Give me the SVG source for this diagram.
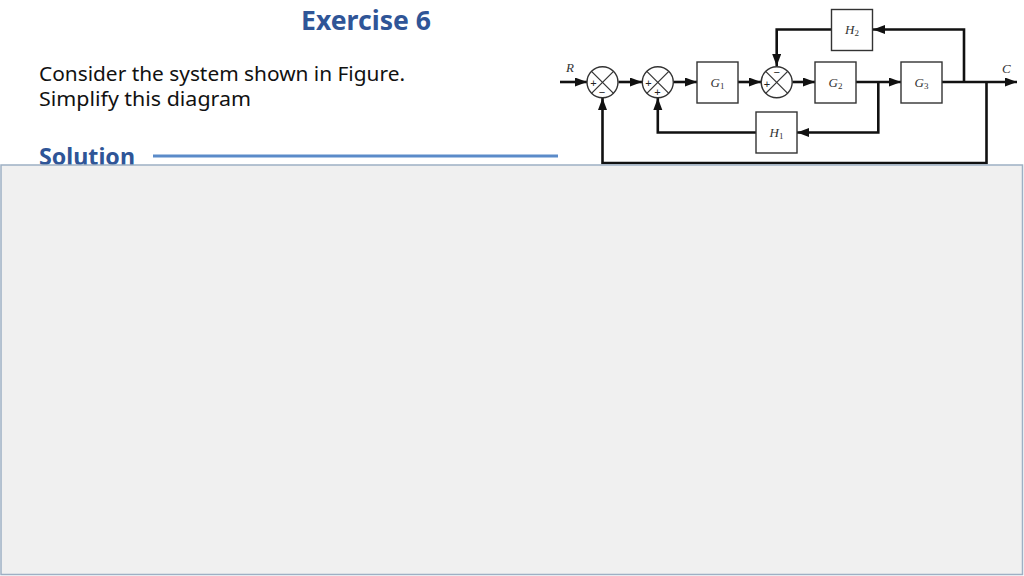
<svg xmlns="http://www.w3.org/2000/svg" width="1024" height="576" viewBox="0 0 1024 576">
  <defs>
    <marker id="arr" markerUnits="userSpaceOnUse" markerWidth="13" markerHeight="10" refX="12" refY="4.5" orient="auto">
      <path d="M0,0 L12,4.5 L0,9 Z" fill="#111"/>
    </marker>
  </defs>
  <style>
    .title { font-family: "Comic Sans MS", "Noto Sans", sans-serif; font-weight: bold; fill: #2f5597; }
    .body { font-family: "Comic Sans MS", "Noto Sans", sans-serif; font-size: 20px; fill: #111; }
    .blk { fill: #fff; stroke: #333; stroke-width: 1.4; }
    .sum { fill: #fff; stroke: #333; stroke-width: 1.4; }
    .x { stroke: #333; stroke-width: 1.2; }
    .lbl { font-family: "Liberation Serif", serif; font-style: italic; font-size: 13px; fill: #333; }
    .sub { font-size: 9px; font-style: normal; }
    .sign { font-family: "Liberation Sans", sans-serif; font-size: 11px; fill: #222; }
    .wire { fill: none; stroke: #111; stroke-width: 2.6; }
  </style>

  <rect width="1024" height="576" fill="#ffffff"/>

  <text class="title" x="366" y="30" font-size="26" text-anchor="middle" textLength="130" lengthAdjust="spacingAndGlyphs">Exercise 6</text>
  <text class="body" x="39" y="81" textLength="366" lengthAdjust="spacingAndGlyphs">Consider the system shown in Figure.</text>
  <text class="body" x="39" y="106" textLength="212" lengthAdjust="spacingAndGlyphs">Simplify this diagram</text>
  <text class="title" x="39" y="165" font-size="24" textLength="96" lengthAdjust="spacingAndGlyphs">Solution</text>
  <line x1="153" y1="156" x2="558" y2="156" stroke="#5b8bc9" stroke-width="3"/>

  <g id="connectors">
    <path class="wire" d="M560,82 H587" marker-end="url(#arr)"/>
    <path class="wire" d="M618.5,82 H642" marker-end="url(#arr)"/>
    <path class="wire" d="M673.5,82 H697" marker-end="url(#arr)"/>
    <path class="wire" d="M738,82 H761" marker-end="url(#arr)"/>
    <path class="wire" d="M792.5,82 H815" marker-end="url(#arr)"/>
    <path class="wire" d="M856,82 H901" marker-end="url(#arr)"/>
    <path class="wire" d="M942,82 H1017" marker-end="url(#arr)"/>
    <path class="wire" d="M964,82 V29.5 H873" marker-end="url(#arr)"/>
    <path class="wire" d="M831.5,29.5 H776.7 V66" marker-end="url(#arr)"/>
    <path class="wire" d="M878.3,82 V132.5 H797" marker-end="url(#arr)"/>
    <path class="wire" d="M756,132.5 H657.8 V98" marker-end="url(#arr)"/>
    <path class="wire" d="M986.5,82 V163 H602.5 V98" marker-end="url(#arr)"/>
  </g>

  <text class="lbl" x="566" y="72" font-size="11">R</text>
  <text class="lbl" x="1002" y="73" font-size="11">C</text>

  <g id="sum1">
    <circle class="sum" cx="602.5" cy="82.3" r="15.5"/>
    <line class="x" x1="591.5" y1="71.3" x2="613.5" y2="93.3"/>
    <line class="x" x1="613.5" y1="71.3" x2="591.5" y2="93.3"/>
    <text class="sign" x="593.5" y="86.5" text-anchor="middle">+</text>
    <text class="sign" x="602" y="95.5" text-anchor="middle">−</text>
  </g>
  <g id="sum2">
    <circle class="sum" cx="657.8" cy="82.3" r="15.5"/>
    <line class="x" x1="646.8" y1="71.3" x2="668.8" y2="93.3"/>
    <line class="x" x1="668.8" y1="71.3" x2="646.8" y2="93.3"/>
    <text class="sign" x="648.5" y="86.5" text-anchor="middle">+</text>
    <text class="sign" x="657.5" y="95.5" text-anchor="middle">+</text>
  </g>
  <g id="sum3">
    <circle class="sum" cx="776.7" cy="82.3" r="15.5"/>
    <line class="x" x1="765.7" y1="71.3" x2="787.7" y2="93.3"/>
    <line class="x" x1="787.7" y1="71.3" x2="765.7" y2="93.3"/>
    <text class="sign" x="776.7" y="76" text-anchor="middle">−</text>
    <text class="sign" x="767" y="88" text-anchor="middle">+</text>
  </g>

  <g id="G1">
    <rect class="blk" x="697" y="62" width="41" height="41"/>
    <text class="lbl" x="717.5" y="86.5" text-anchor="middle">G<tspan class="sub" dy="2">1</tspan></text>
  </g>
  <g id="G2">
    <rect class="blk" x="815" y="62" width="41" height="41"/>
    <text class="lbl" x="835.5" y="86.5" text-anchor="middle">G<tspan class="sub" dy="2">2</tspan></text>
  </g>
  <g id="G3">
    <rect class="blk" x="901" y="62" width="41" height="41"/>
    <text class="lbl" x="921.5" y="86.5" text-anchor="middle">G<tspan class="sub" dy="2">3</tspan></text>
  </g>
  <g id="H2">
    <rect class="blk" x="831.5" y="9.5" width="41" height="41"/>
    <text class="lbl" x="852" y="34" text-anchor="middle">H<tspan class="sub" dy="2">2</tspan></text>
  </g>
  <g id="H1">
    <rect class="blk" x="756" y="112" width="41" height="41"/>
    <text class="lbl" x="776.5" y="136.5" text-anchor="middle">H<tspan class="sub" dy="2">1</tspan></text>
  </g>

  <rect id="panel" x="1" y="165" width="1021.5" height="409.5" fill="#f0f0f0" stroke="#9db0c4" stroke-width="1.5"/>
</svg>
